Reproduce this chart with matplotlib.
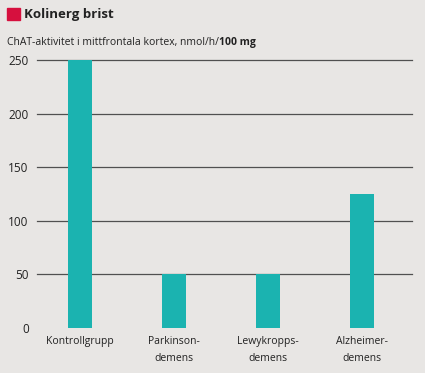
import matplotlib
matplotlib.use("Agg")
import matplotlib.pyplot as plt
from matplotlib.patches import Rectangle

# Data
grupper = ["Kontrollgrupp", "Parkinson-\ndemens", "Lewykropps-\ndemens", "Alzheimer-\ndemens"]
chat_aktivitet = [250, 50, 50, 125]
yticks = [0, 50, 100, 150, 200, 250]

BG = "#e8e6e4"
BAR = "#1bb3b0"
GRID = "#505050"
TXT = "#222222"
FONT = "Open Sans"

fig = plt.figure(figsize=(4.25, 3.73), dpi=100, facecolor=BG)
ax = fig.add_axes([37 / 425, 45 / 373, 375 / 425, 268 / 373])
ax.set_facecolor(BG)

x = range(len(grupper))
ax.bar(x, chat_aktivitet, width=0.255, color=BAR, zorder=3)

ax.set_xlim(-0.457, 3.532)
ax.set_ylim(0, 250)
ax.set_yticks(yticks)
ax.set_yticklabels([str(v) for v in yticks], fontsize=8.5, family=FONT, color=TXT)
ax.set_xticks(list(x))
ax.set_xticklabels(grupper, fontsize=7.5, family=FONT, color=TXT, linespacing=1.7, va="top")
ax.tick_params(axis="y", length=0, pad=6)
ax.tick_params(axis="x", length=0, pad=6)

ax.grid(axis="y", color=GRID, lw=0.9, zorder=1)
ax.set_axisbelow(True)
for i, gl in enumerate(ax.yaxis.get_gridlines()):
    gl.set_clip_on(False)
    if i == 0:
        gl.set_visible(False)
for s in ax.spines.values():
    s.set_visible(False)

# Rubrik
fig.patches.append(Rectangle((7 / 425, 1 - 20 / 373), 13 / 425, 12 / 373,
                             transform=fig.transFigure, color="#d6103e"))
fig.text(24 / 425, 1 - 14.5 / 373, "Kolinerg brist", fontsize=9.5, fontweight="bold",
         family=FONT, color=TXT, va="center", ha="left")
t = fig.text(7 / 425, 1 - 42 / 373, "ChAT-aktivitet i mittfrontala kortex, nmol/h/",
             fontsize=7.5, family=FONT, color=TXT, va="center", ha="left")
fig.canvas.draw()
bb = t.get_window_extent()
fig.text(bb.x1 / fig.bbox.width, 1 - 42 / 373, "100 mg", fontsize=7.5, fontweight="bold",
         family=FONT, color=TXT, va="center", ha="left")

fig.savefig("out.png", dpi=100, facecolor=BG)
